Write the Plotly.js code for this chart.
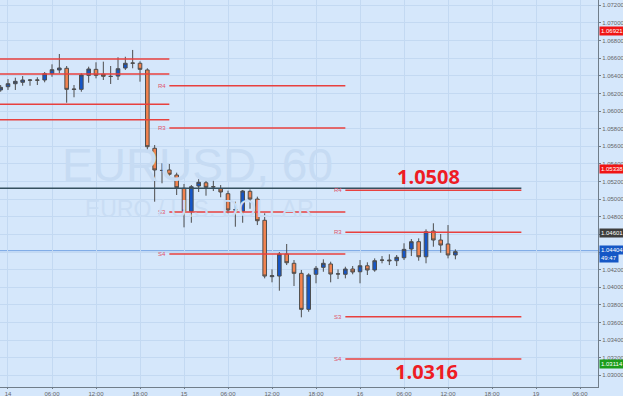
<!DOCTYPE html>
<html><head><meta charset="utf-8">
<script src="https://cdn.plot.ly/plotly-3.0.1.min.js"></script>
<style>html,body{margin:0;padding:0;background:#d5e7fb;}#chart{width:623px;height:396px;}</style>
</head><body><div id="chart"></div>
<script>
// Hours since 14 Dec 00:00 (weekend gap collapsed)
const hours = [-1,0,1,2,3,4,5,6,7,8,9,10,11,12,13,14,15,16,17,18,19,20,21,22,23,24,25,26,27,28,29,30,31,32,33,34,35,36,37,38,39,40,41,42,43,44,45,46,47,48,49,50,51,52,53,54,55,56,57,58,59,60,61];
const openP = [1.06239,1.06276,1.06310,1.06326,1.06352,1.06352,1.06352,1.06424,1.06466,1.06485,1.06250,1.06246,1.06405,1.06473,1.06417,1.06394,1.06397,1.06488,1.06545,1.06542,1.06466,1.05577,1.05327,1.05331,1.05274,1.05123,1.04862,1.05149,1.05186,1.05141,1.05118,1.05062,1.04880,1.04862,1.05089,1.05001,1.04760,1.04120,1.04127,1.04377,1.04272,1.04158,1.03749,1.04147,1.04226,1.04264,1.04150,1.04147,1.04207,1.04176,1.04244,1.04196,1.04309,1.04309,1.04301,1.04335,1.04434,1.04517,1.04346,1.04638,1.04536,1.04491,1.04366];
const highP = [1.06295,1.06363,1.06378,1.06397,1.06363,1.06383,1.06443,1.06530,1.06647,1.06511,1.06295,1.06428,1.06503,1.06553,1.06560,1.06511,1.06610,1.06616,1.06693,1.06564,1.06485,1.05614,1.05407,1.05399,1.05300,1.05172,1.05160,1.05228,1.05209,1.05209,1.05160,1.05096,1.04971,1.05104,1.05111,1.05028,1.04839,1.04203,1.04400,1.04491,1.04309,1.04196,1.04158,1.04241,1.04317,1.04290,1.04203,1.04233,1.04241,1.04309,1.04283,1.04328,1.04354,1.04374,1.04366,1.04499,1.04547,1.04555,1.04657,1.04726,1.04604,1.04706,1.04430];
const lowP = [1.06219,1.06239,1.06239,1.06287,1.06287,1.06295,1.06326,1.06389,1.06428,1.06094,1.06156,1.06219,1.06321,1.06371,1.06352,1.06307,1.06352,1.06466,1.06485,1.06333,1.05558,1.04971,1.05180,1.05255,1.05047,1.04680,1.04732,1.05081,1.05039,1.05092,1.05021,1.04839,1.04687,1.04732,1.04891,1.04706,1.04101,1.04056,1.03961,1.04252,1.04014,1.03659,1.03722,1.04045,1.04176,1.04056,1.04093,1.04101,1.04147,1.04045,1.04139,1.04176,1.04272,1.04252,1.04241,1.04309,1.04354,1.04301,1.04272,1.04460,1.04392,1.04328,1.04317];
const closeP = [1.06269,1.06310,1.06337,1.06352,1.06350,1.06350,1.06424,1.06469,1.06488,1.06246,1.06246,1.06409,1.06477,1.06405,1.06394,1.06392,1.06480,1.06542,1.06543,1.06473,1.05595,1.05331,1.05325,1.05282,1.05130,1.04865,1.05141,1.05191,1.05134,1.05139,1.05081,1.04877,1.04878,1.05092,1.05001,1.04755,1.04127,1.04131,1.04377,1.04278,1.04158,1.03749,1.04139,1.04215,1.04272,1.04150,1.04152,1.04207,1.04173,1.04244,1.04196,1.04301,1.04307,1.04301,1.04340,1.04430,1.04517,1.04346,1.04630,1.04536,1.04479,1.04366,1.04404];

// x-axis ticks
const tickHours = [0,6,12,18,24,30,36,42,48,54,60,66,72,78];
const tickLabels = ["14","06:00","12:00","18:00","15","06:00","12:00","18:00","16","06:00","12:00","18:00","19","06:00"];

// Daily pivot segments (forex day starts 22:00)
const pivotStart = [-2, 22, 46];
const pivotEnd = [22, 46, 70];
const pivotNames = ["R4","R3","S3","S4"];
const pivotR4 = [1.06590, 1.06287, 1.05100];
const pivotR3 = [1.06420, 1.05807, 1.04623];
const pivotS3 = [1.06076, 1.04854, 1.03666];
const pivotS4 = [1.05901, 1.04377, 1.03185];

// Key level line and current price
const keyLevel = 1.05123;
const keyLevelStart = -2, keyLevelEnd = 70;
const currentPrice = 1.04415;

// Callout texts
const calloutText = ["1.0508","1.0316"];
const calloutX = [57.27, 57.1];
const calloutY = [1.05255, 1.03041];

// Right-axis value boxes
const boxText = ["1.06921","1.05338","1.04601","1.04404","49:47","1.03114"];
const boxPrice = [1.06908, 1.05342, 1.04616, 1.04423, 1.04332, 1.03129];
const boxStyle = ["#f01414","#f01414","#3d3d3d","#1557c6","#1557c6","#1b9d1b"];

const xRange = [-1.09, 80.45];
const yRange = [1.02868, 1.07260];

const trace = {
  type: 'candlestick',
  x: hours, open: openP, high: highP, low: lowP, close: closeP,
  increasing: {fillcolor: '#1556c8', line: {color: '#4d4d4d', width: 1}},
  decreasing: {fillcolor: '#f2834f', line: {color: '#4d4d4d', width: 1}},
  whiskerwidth: 0,
  hoverinfo: 'none'
};

const shapes = [];
const annotations = [];
const levels = [pivotR4, pivotR3, pivotS3, pivotS4];
for (let s = 0; s < pivotStart.length; s++) {
  levels.forEach((arr, k) => {
    shapes.push({type:'line', xref:'x', yref:'y', x0:pivotStart[s], x1:pivotEnd[s], y0:arr[s], y1:arr[s],
      line:{color:'#e8403e', width:1.5}, layer:'above'});
    if (pivotStart[s] > xRange[0]) {
      annotations.push({xref:'x', yref:'y', x:pivotStart[s], y:arr[s], text:pivotNames[k], showarrow:false,
        xanchor:'right', yanchor:'middle', xshift:-1, font:{size:6, color:'#e0526a', family:'Liberation Sans'}});
    }
  });
}
shapes.push({type:'line', xref:'x', yref:'y', x0:keyLevelStart, x1:keyLevelEnd, y0:keyLevel, y1:keyLevel,
  line:{color:'#35505f', width:1.6}, layer:'above'});
shapes.push({type:'line', xref:'paper', yref:'y', x0:0, x1:1, y0:currentPrice, y1:currentPrice,
  line:{color:'#6f9fe2', width:1}, layer:'below'});

calloutText.forEach((t, i) => {
  annotations.push({xref:'x', yref:'y', x:calloutX[i], y:calloutY[i], text:'<b>'+t+'</b>', showarrow:false,
    xanchor:'center', yanchor:'middle', font:{size:20, color:'#ee1c24', family:'Open Sans'}});
});

boxText.forEach((t, i) => {
  annotations.push({xref:'paper', yref:'y', x:1, y:boxPrice[i], text:t, showarrow:false,
    xanchor:'left', yanchor:'middle', xshift:1, bgcolor:boxStyle[i], borderpad:1,
    font:{size:6, color:'#ffffff', family:'Liberation Sans'}});
});

// watermark
annotations.push({xref:'paper', yref:'paper', x:0.331, y:0.573, text:'EURUSD, 60', showarrow:false,
  xanchor:'center', yanchor:'middle', font:{size:46, color:'#c6dbf3', family:'Liberation Sans'}});
annotations.push({xref:'paper', yref:'paper', x:0.333, y:0.46, text:'EURO / U.S. DOLLAR', showarrow:false,
  xanchor:'center', yanchor:'middle', font:{size:23, color:'#c9ddf4', family:'Liberation Sans'}});

const layout = {
  width: 623, height: 396,
  margin: {l:0, r:25, t:0, b:9, pad:0},
  paper_bgcolor: '#d5e7fb', plot_bgcolor: '#d5e7fb',
  showlegend: false,
  xaxis: {range: xRange, tickmode:'array', tickvals: tickHours, ticktext: tickLabels,
    showgrid: true, gridcolor: '#c3d9f2', gridwidth: 1, zeroline: false,
    showline: true, linecolor: '#707d8a', linewidth: 1,
    ticks: 'outside', ticklen: 1, tickcolor: '#707d8a',
    tickfont: {size: 6, color: '#666', family: 'Liberation Sans'},
    rangeslider: {visible: false}, automargin: false, fixedrange: true},
  yaxis: {range: yRange, side: 'right', tick0: 1.03, dtick: 0.002, tickformat: '.5f',
    showgrid: true, gridcolor: '#c3d9f2', gridwidth: 1, zeroline: false,
    showline: true, linecolor: '#707d8a', linewidth: 1,
    ticks: 'outside', ticklen: 2, tickcolor: '#707d8a',
    tickfont: {size: 6, color: '#666', family: 'Liberation Sans'},
    automargin: false, fixedrange: true},
  shapes: shapes,
  annotations: annotations
};

Plotly.newPlot('chart', [trace], layout, {displayModeBar: false, staticPlot: true});
</script></body></html>
